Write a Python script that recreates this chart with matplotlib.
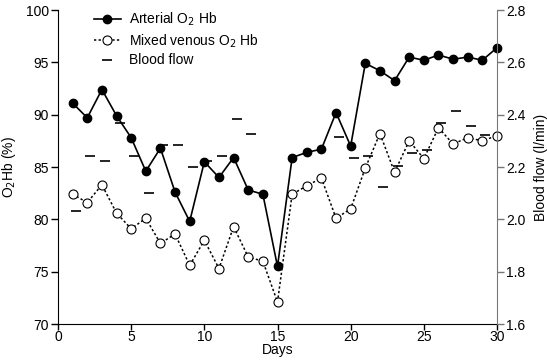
import matplotlib
matplotlib.use("Agg")
import matplotlib.pyplot as plt
import matplotlib.transforms as mtransforms

plt.rcParams['font.family'] = ['Liberation Sans', 'DejaVu Sans']

days = list(range(1, 31))
arterial = [91.1, 89.7, 92.4, 89.9, 87.8, 84.6, 86.8, 82.6, 79.8, 85.5,
            84.0, 85.9, 82.8, 82.4, 75.5, 85.9, 86.4, 86.7, 90.2, 87.0,
            94.9, 94.2, 93.25, 95.5, 95.2, 95.7, 95.3, 95.5, 95.2, 96.4]
venous = [82.4, 81.6, 83.3, 80.6, 79.1, 80.1, 77.7, 78.6, 75.6, 78.0,
          75.3, 79.3, 76.4, 76.0, 72.1, 82.4, 83.2, 83.95, 80.1, 81.0,
          84.9, 88.2, 84.5, 87.5, 85.8, 88.75, 87.2, 87.8, 87.5, 88.0]
flow_days = [1, 2, 3, 4, 5, 6, 7, 8, 9, 10, 11, 12, 13, 19, 20,
             21, 22, 23, 24, 25, 26, 27, 28, 29]
flow = [2.03, 2.243, 2.224, 2.367, 2.243, 2.102, 2.284, 2.284, 2.201, 2.223,
        2.243, 2.385, 2.325, 2.313, 2.233,
        2.242, 2.125, 2.204, 2.255, 2.265, 2.367, 2.415, 2.357, 2.322]

fig = plt.figure(figsize=(5.47, 3.6), dpi=100)
ax = fig.add_axes([58/547, 1-324/360, (497-58)/547, (324-10)/360])
ax2 = ax.twinx()

la, = ax.plot(days, arterial, '-', color='black', lw=1.2, marker='o',
              markersize=6, markerfacecolor='black', markeredgecolor='black',
              label='Arterial O$_2$ Hb', zorder=3, clip_on=False)
lv, = ax.plot(days, venous, color='black', lw=1.1, linestyle=(0, (1.5, 1.5)),
              marker='o', markersize=6.5, markerfacecolor='white',
              markeredgecolor='black', markeredgewidth=0.8,
              label='Mixed venous O$_2$ Hb', zorder=3, clip_on=False)
off = mtransforms.offset_copy(ax2.transData, fig=fig, x=3, y=0, units='dots')
lf, = ax2.plot(flow_days, flow, linestyle='none', marker='_', markersize=7,
               markeredgewidth=1.2, color='black', transform=off,
               label='Blood flow')

ax.set_xlim(0, 30)
ax.set_ylim(70, 100)
ax2.set_ylim(1.6, 2.8)
ax.set_xticks(range(0, 31, 5))
ax.set_yticks(range(70, 101, 5))
ax2.set_yticks([1.6, 1.8, 2.0, 2.2, 2.4, 2.6, 2.8])
ax2.set_yticklabels(['1.6', '1.8', '2.0', '2.2', '2.4', '2.6', '2.8'])

for a in (ax, ax2):
    a.spines['top'].set_visible(False)
ax.spines['right'].set_visible(False)
ax2.spines['left'].set_visible(False)
ax2.spines['bottom'].set_visible(False)
ax2.spines['right'].set_color('#777777')
ax2.tick_params(axis='y', colors='black', labelsize=10, length=5,
                color='#777777', width=1, pad=1.5)
ax.tick_params(axis='y', labelsize=10, length=5, width=1, pad=1.5)
ax.tick_params(axis='x', labelsize=10, length=4, width=1, pad=0.5)

ax.set_xlabel('Days', fontsize=10, labelpad=-1)
ax.set_ylabel('O$_2$Hb (%)', fontsize=10, labelpad=6)
ax2.set_ylabel('Blood flow (l/min)', fontsize=10, labelpad=6)

ax.legend(handles=[la, lv, lf], loc='upper left', frameon=False,
          bbox_to_anchor=(0.054, 1.037), fontsize=10, handlelength=1.9,
          handletextpad=0.6, labelspacing=0.28)

fig.savefig('out.png', dpi=100)
